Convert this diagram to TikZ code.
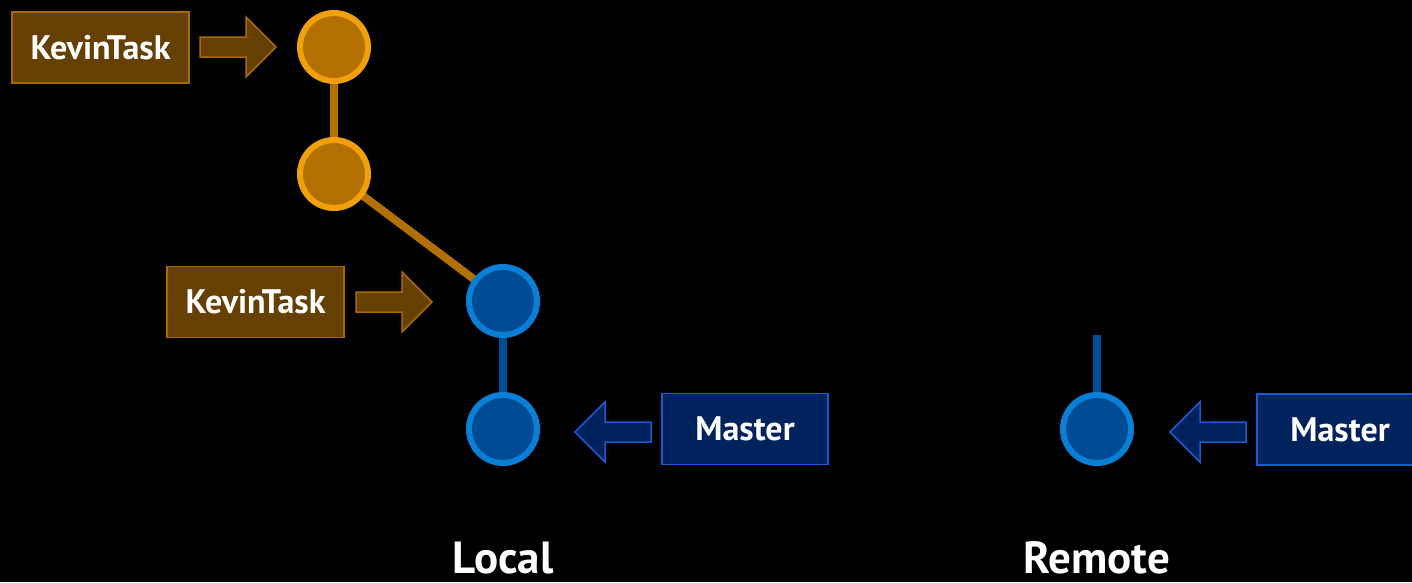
\documentclass[tikz,border=0pt]{standalone}
\usepackage{fontspec}
\setmainfont{PT Sans}
\pgfdeclarelayer{back}
\pgfdeclarelayer{links}
\pgfsetlayers{back,links,main}
\definecolor{orring}{HTML}{F0A00A}
\definecolor{orfill}{HTML}{B36F00}
\definecolor{kfill}{HTML}{654000}
\definecolor{kline}{HTML}{A86A00}
\definecolor{blring}{HTML}{0A7FD6}
\definecolor{blfill}{HTML}{004C94}
\definecolor{mfill}{HTML}{00235E}
\definecolor{mline}{HTML}{1A5ACF}
\tikzset{
  commitor/.style={circle, draw=orring, fill=orfill, line width=6, minimum size=68, inner sep=0},
  commitbl/.style={circle, draw=blring, fill=blfill, line width=6, minimum size=68, inner sep=0},
  labelbox/.style={line width=1.5, text=white, minimum height=71, inner sep=0, font=\bfseries\fontsize{34}{40}\selectfont},
  kbox/.style={labelbox, draw=kline, fill=kfill, minimum width=177},
  mbox/.style={labelbox, draw=mline, fill=mfill, minimum width=166},
  orlink/.style={draw=orfill, line width=8},
  bllink/.style={draw=blfill, line width=8},
  side/.style={text=white, font=\bfseries\fontsize{45}{50}\selectfont, anchor=base, inner sep=0},
  pics/blockarrow/.style={code={
    \path[pic actions] (-76,-10) -- (-30,-10) -- (-30,-30) -- (0,0) -- (-30,30) -- (-30,10) -- (-76,10) -- cycle;}},
  karrow/.style={draw=kline, fill=kfill, line width=1.5},
  marrow/.style={draw=mline, fill=mfill, line width=1.5},
}
\begin{document}
\begin{tikzpicture}[x=1pt,y=-1pt]
\useasboundingbox (0,0) rectangle (1412,582);
\begin{pgfonlayer}{back}
\fill[black] (0,0) rectangle (1412,582);
\end{pgfonlayer}
% commits
\node[commitor] (c1) at (334,47) {};
\node[commitor] (c2) at (334,174) {};
\node[commitbl] (c3) at (503,301) {};
\node[commitbl] (c4) at (503,429) {};
\node[commitbl] (r1) at (1097,429) {};
\coordinate (rtop) at (1097,335);
% links
\begin{pgfonlayer}{links}
\draw[orlink] (c1.center) -- (c2.center);
\draw[orlink] (c2.center) -- (c3.center);
\draw[bllink] (c3.center) -- (c4.center);
\draw[bllink] (rtop) -- (r1.center);
\end{pgfonlayer}
% labels
\node[kbox] (k1) at (100.5,47.5) {KevinTask};
\node[kbox] (k2) at (255.5,302) {KevinTask};
\node[mbox] (m1) at (745,429) {Master};
\node[mbox] (m2) at (1340,429.5) {Master};
% block arrows
\pic[karrow] at (276,47) {blockarrow};
\pic[karrow] at (432,302) {blockarrow};
\pic[marrow, rotate=180] at (575,432) {blockarrow};
\pic[marrow, rotate=180] at (1170,432) {blockarrow};
% side labels
\node[side] (loc) at (503,573) {Local};
\node[side] (rem) at (1097,573) {Remote};
\end{tikzpicture}
\end{document}
